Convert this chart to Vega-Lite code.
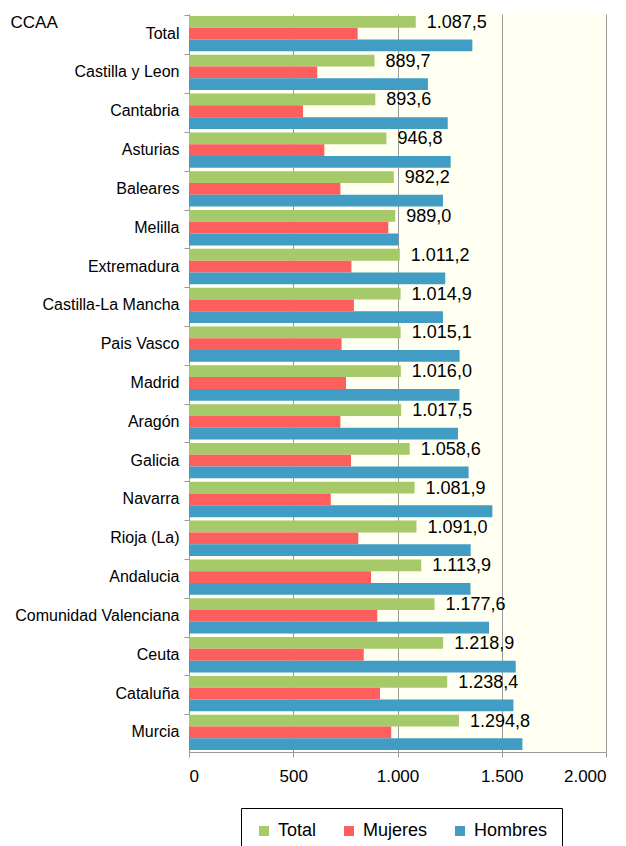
{
  "$schema": "https://vega.github.io/schema/vega-lite/v6.json",
  "width": 417,
  "height": 738,
  "autosize": {"type": "none"},
  "padding": {"left": 189, "top": 14, "right": 20, "bottom": 94},
  "config": {
    "locale": {"number": {"decimal": ",", "thousands": ".", "grouping": [3], "currency": ["", " €"]}},
    "font": "Liberation Sans",
    "view": {"fill": "#FFFFF2", "stroke": null}
  },
  "data": {
    "values": [
      {"ccaa": "Total", "serie": "Total", "valor": 1087.5},
      {"ccaa": "Total", "serie": "Mujeres", "valor": 809},
      {"ccaa": "Total", "serie": "Hombres", "valor": 1359},
      {"ccaa": "Castilla y Leon", "serie": "Total", "valor": 889.7},
      {"ccaa": "Castilla y Leon", "serie": "Mujeres", "valor": 615},
      {"ccaa": "Castilla y Leon", "serie": "Hombres", "valor": 1146},
      {"ccaa": "Cantabria", "serie": "Total", "valor": 893.6},
      {"ccaa": "Cantabria", "serie": "Mujeres", "valor": 547},
      {"ccaa": "Cantabria", "serie": "Hombres", "valor": 1241},
      {"ccaa": "Asturias", "serie": "Total", "valor": 946.8},
      {"ccaa": "Asturias", "serie": "Mujeres", "valor": 649},
      {"ccaa": "Asturias", "serie": "Hombres", "valor": 1255},
      {"ccaa": "Baleares", "serie": "Total", "valor": 982.2},
      {"ccaa": "Baleares", "serie": "Mujeres", "valor": 726},
      {"ccaa": "Baleares", "serie": "Hombres", "valor": 1218},
      {"ccaa": "Melilla", "serie": "Total", "valor": 989.0},
      {"ccaa": "Melilla", "serie": "Mujeres", "valor": 956},
      {"ccaa": "Melilla", "serie": "Hombres", "valor": 1004},
      {"ccaa": "Extremadura", "serie": "Total", "valor": 1011.2},
      {"ccaa": "Extremadura", "serie": "Mujeres", "valor": 779},
      {"ccaa": "Extremadura", "serie": "Hombres", "valor": 1229},
      {"ccaa": "Castilla-La Mancha", "serie": "Total", "valor": 1014.9},
      {"ccaa": "Castilla-La Mancha", "serie": "Mujeres", "valor": 791},
      {"ccaa": "Castilla-La Mancha", "serie": "Hombres", "valor": 1218},
      {"ccaa": "Pais Vasco", "serie": "Total", "valor": 1015.1},
      {"ccaa": "Pais Vasco", "serie": "Mujeres", "valor": 732},
      {"ccaa": "Pais Vasco", "serie": "Hombres", "valor": 1298},
      {"ccaa": "Madrid", "serie": "Total", "valor": 1016.0},
      {"ccaa": "Madrid", "serie": "Mujeres", "valor": 753},
      {"ccaa": "Madrid", "serie": "Hombres", "valor": 1297},
      {"ccaa": "Aragón", "serie": "Total", "valor": 1017.5},
      {"ccaa": "Aragón", "serie": "Mujeres", "valor": 726},
      {"ccaa": "Aragón", "serie": "Hombres", "valor": 1290},
      {"ccaa": "Galicia", "serie": "Total", "valor": 1058.6},
      {"ccaa": "Galicia", "serie": "Mujeres", "valor": 777},
      {"ccaa": "Galicia", "serie": "Hombres", "valor": 1341},
      {"ccaa": "Navarra", "serie": "Total", "valor": 1081.9},
      {"ccaa": "Navarra", "serie": "Mujeres", "valor": 680},
      {"ccaa": "Navarra", "serie": "Hombres", "valor": 1455},
      {"ccaa": "Rioja (La)", "serie": "Total", "valor": 1091.0},
      {"ccaa": "Rioja (La)", "serie": "Mujeres", "valor": 812},
      {"ccaa": "Rioja (La)", "serie": "Hombres", "valor": 1351},
      {"ccaa": "Andalucia", "serie": "Total", "valor": 1113.9},
      {"ccaa": "Andalucia", "serie": "Mujeres", "valor": 873},
      {"ccaa": "Andalucia", "serie": "Hombres", "valor": 1350},
      {"ccaa": "Comunidad Valenciana", "serie": "Total", "valor": 1177.6},
      {"ccaa": "Comunidad Valenciana", "serie": "Mujeres", "valor": 903},
      {"ccaa": "Comunidad Valenciana", "serie": "Hombres", "valor": 1439},
      {"ccaa": "Ceuta", "serie": "Total", "valor": 1218.9},
      {"ccaa": "Ceuta", "serie": "Mujeres", "valor": 838},
      {"ccaa": "Ceuta", "serie": "Hombres", "valor": 1567},
      {"ccaa": "Cataluña", "serie": "Total", "valor": 1238.4},
      {"ccaa": "Cataluña", "serie": "Mujeres", "valor": 916},
      {"ccaa": "Cataluña", "serie": "Hombres", "valor": 1556},
      {"ccaa": "Murcia", "serie": "Total", "valor": 1294.8},
      {"ccaa": "Murcia", "serie": "Mujeres", "valor": 970},
      {"ccaa": "Murcia", "serie": "Hombres", "valor": 1599}
    ]
  },
  "encoding": {
    "y": {
      "field": "ccaa",
      "type": "nominal",
      "sort": null,
      "scale": {"paddingInner": 0.09, "paddingOuter": 0.05},
      "axis": {
        "title": "CCAA",
        "titleAngle": 0,
        "titleAlign": "left",
        "titleBaseline": "alphabetic",
        "titleX": -179,
        "titleY": 13,
        "titleFontSize": 17,
        "titleFontWeight": "normal",
        "titleColor": "black",
        "labelFontSize": 16,
        "labelColor": "black",
        "labelPadding": 5,
        "labelLimit": 300,
        "tickSize": 5,
        "tickColor": "#999999",
        "domainColor": "#999999",
        "bandPosition": 0
      }
    },
    "yOffset": {
      "field": "serie",
      "type": "nominal",
      "sort": ["Total", "Mujeres", "Hombres"],
      "scale": {"domain": ["Total", "Mujeres", "Hombres"], "paddingInner": 0, "paddingOuter": 0}
    },
    "x": {
      "field": "valor",
      "type": "quantitative",
      "scale": {"domain": [0, 2000], "nice": false},
      "axis": {
        "title": null,
        "values": [0, 500, 1000, 1500, 2000],
        "format": ",.0f",
        "grid": true,
        "gridColor": "#9a9a9a",
        "tickColor": "#9a9a9a",
        "domainColor": "#9a9a9a",
        "tickSize": 5,
        "labelFontSize": 17,
        "labelColor": "black",
        "labelPadding": 11
      }
    }
  },
  "layer": [
    {
      "mark": {"type": "bar"},
      "encoding": {
        "color": {
          "field": "serie",
          "type": "nominal",
          "scale": {"domain": ["Total", "Mujeres", "Hombres"], "range": ["#A6CA6A", "#FD5F5F", "#419DC3"]},
          "legend": {
            "orient": "none",
            "legendX": 52,
            "legendY": 794,
            "direction": "horizontal",
            "title": null,
            "strokeColor": "black",
            "fillColor": "white",
            "padding": 14,
            "symbolType": "square",
            "symbolSize": 100,
            "symbolStrokeWidth": 0,
            "labelFontSize": 18,
            "labelColor": "black",
            "labelOffset": 5,
            "columnPadding": 23
          }
        }
      }
    },
    {
      "transform": [{"filter": "datum.serie === 'Total'"}],
      "mark": {"type": "text", "align": "left", "baseline": "middle", "dx": 11, "dy": 1, "fontSize": 18, "color": "black"},
      "encoding": {
        "text": {"field": "valor", "type": "quantitative", "format": ",.1f"}
      }
    }
  ]
}
